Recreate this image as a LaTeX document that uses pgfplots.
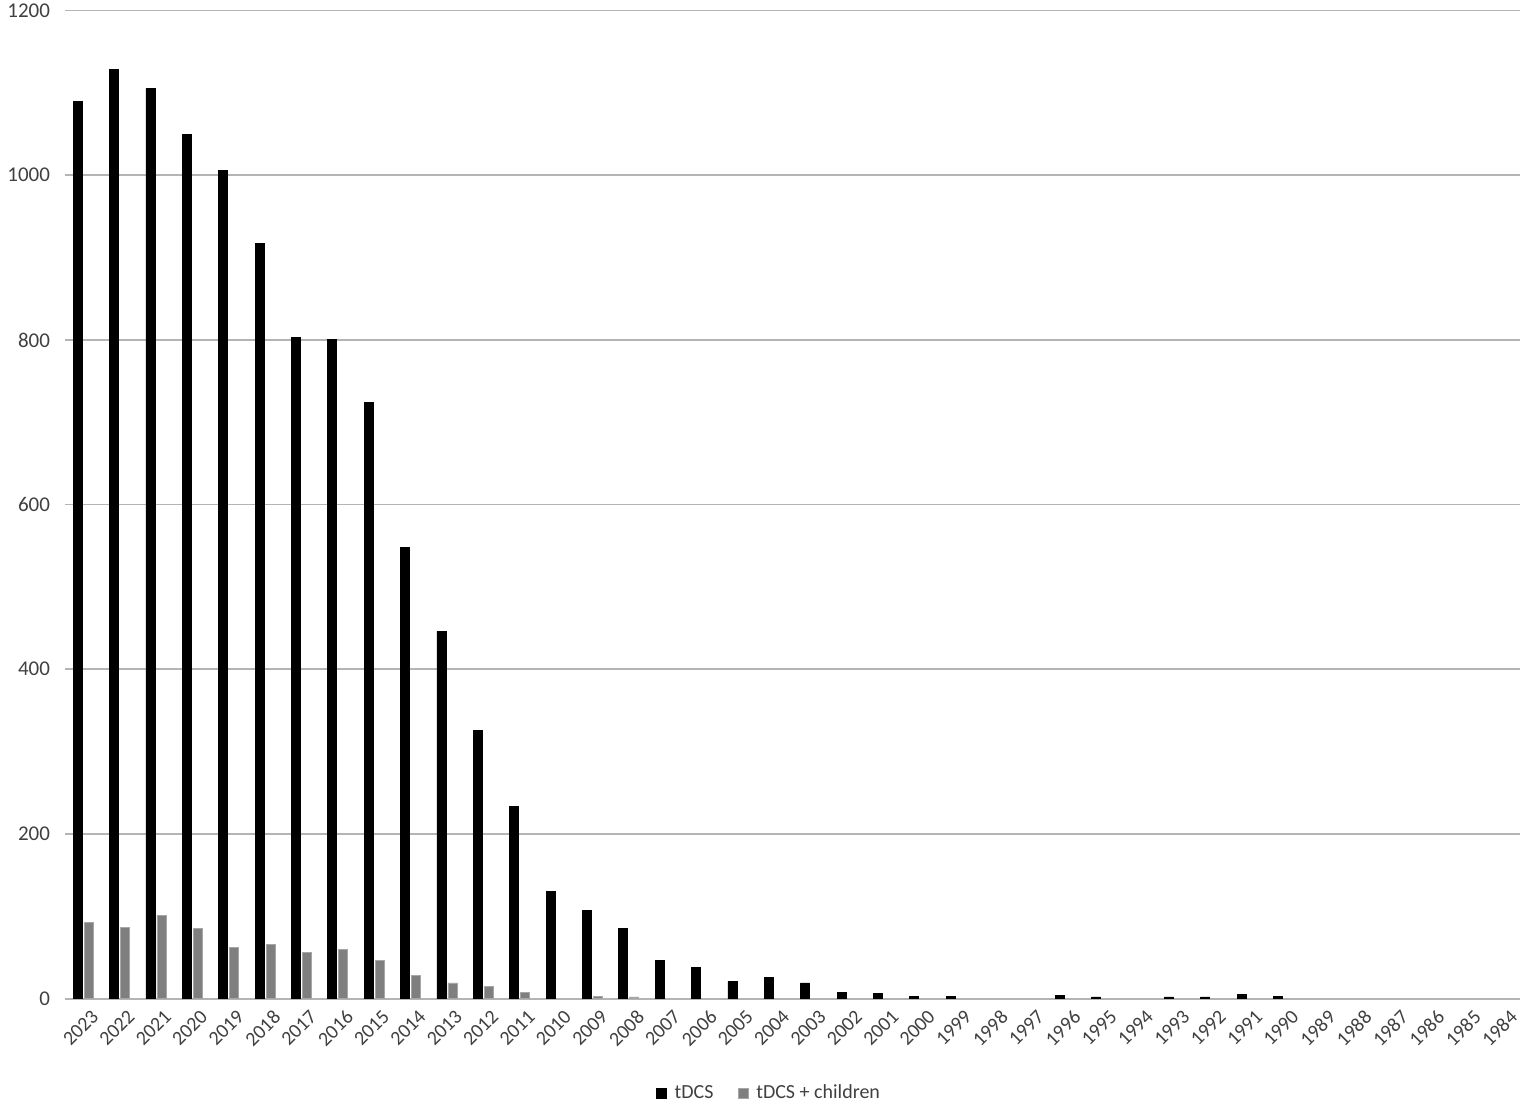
\documentclass[border=0pt]{standalone}
\usepackage{fontspec}
\setmainfont{Carlito}
\usepackage{pgfplots}
\pgfplotsset{compat=1.18}
\definecolor{barblack}{HTML}{000000}
\definecolor{bargray}{HTML}{7F7F7F}
\definecolor{gridgray}{HTML}{B4B4B4}
\definecolor{txtgray}{HTML}{404040}
\begin{document}
\begin{tikzpicture}
\useasboundingbox (-32.5pt,-53.5pt) rectangle (729.5pt,499.3pt);
\begin{axis}[
  at={(0,0)}, anchor=south west,
  scale only axis,
  width=727.5pt, height=494pt,
  ybar, bar width=4.5pt,
  xmin=-0.5, xmax=39.5,
  ymin=0, ymax=1200,
  ytick={0,200,...,1200},
  xtick={0,...,39},
  xticklabels={2023,2022,2021,2020,2019,2018,2017,2016,2015,2014,2013,2012,2011,2010,2009,2008,2007,2006,2005,2004,2003,2002,2001,2000,1999,1998,1997,1996,1995,1994,1993,1992,1991,1990,1989,1988,1987,1986,1985,1984},
  x tick label style={rotate=45, anchor=north east, font=\fontsize{10}{12}\selectfont, text=txtgray, inner sep=1pt, yshift=-5pt, xshift=0pt},
  y tick label style={font=\fontsize{10.5}{12}\selectfont, text=txtgray, xshift=-4pt},
  /pgf/number format/assume math mode=true,
  /pgf/number format/1000 sep={},
  major tick length=0pt,
  axis x line*=bottom, axis y line*=left,
  y axis line style={draw=none},
  x axis line style={draw=gridgray, line width=1pt},
  ymajorgrids, grid style={draw=gridgray, line width=0.8pt},
  legend style={at={(0.4845,-0.096)}, anchor=center, draw=none, fill=none,
    legend columns=2, font=\fontsize{10}{12}\selectfont, text=txtgray,
    /tikz/every even column/.append style={column sep=10pt}},
  legend image code/.code={\draw[#1] (0pt,-2.5pt) rectangle (5pt,2.5pt); \path (7pt,0pt);},
  clip=false,
]
\addplot[fill=barblack, draw=barblack, bar shift=-2.75pt] coordinates {
(0,1090) (1,1129) (2,1105) (3,1050) (4,1006) (5,917) (6,803) (7,801) (8,724) (9,548)
(10,446) (11,326) (12,233) (13,130) (14,107) (15,85) (16,46) (17,38) (18,21) (19,26)
(20,19) (21,8) (22,6) (23,3) (24,3) (27,4) (28,2) (30,2) (31,2) (32,5) (33,3)
};
\addplot[fill=bargray, draw=gray!70, bar shift=2.75pt] coordinates {
(0,92) (1,86) (2,101) (3,85) (4,62) (5,66) (6,56) (7,60) (8,46) (9,28)
(10,19) (11,15) (12,7) (14,3) (15,2)
};
\legend{tDCS, tDCS + children}
\end{axis}
\end{tikzpicture}
\end{document}
